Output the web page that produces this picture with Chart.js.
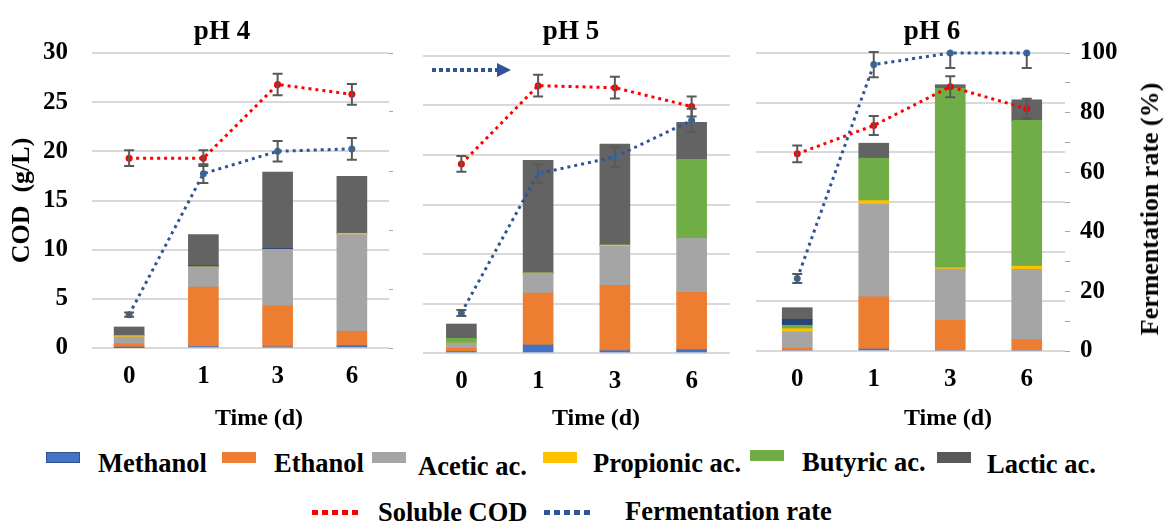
<!DOCTYPE html>
<html>
<head>
<meta charset="utf-8">
<script src="https://cdn.jsdelivr.net/npm/chart.js@4.4.0/dist/chart.umd.min.js"></script>
<style>
  body { margin: 0; background: #fff; }
  #wrap { position: relative; width: 1164px; height: 525px; overflow: hidden;
          font-family: "Liberation Serif", "Times New Roman", serif; font-weight: bold; color: #000; }
  canvas { position: absolute; top: 0; }
  .t { position: absolute; white-space: nowrap; line-height: 1; }
  .ttl { font-size: 27px; transform: translateX(-50%); }
  .xt { font-size: 24px; transform: translateX(-50%); }
  .lg { font-size: 26.5px; }
  .box { position: absolute; width: 34px; height: 11px; }
  .dot { position: absolute; width: 50px; height: 5px; }
</style>
</head>
<body>
<div id="wrap">
  <canvas id="c0" width="395" height="440" style="left:0px"></canvas>
  <canvas id="c1" width="365" height="440" style="left:395px"></canvas>
  <canvas id="c2" width="409" height="440" style="left:755px"></canvas>

  <div class="t ttl" style="left:222px; top:17px">pH 4</div>
  <div class="t ttl" style="left:571px; top:17px">pH 5</div>
  <div class="t ttl" style="left:932px; top:17px">pH 6</div>

  <div class="t xt" style="left:259px; top:405px">Time (d)</div>
  <div class="t xt" style="left:596px; top:405px">Time (d)</div>
  <div class="t xt" style="left:948px; top:405px">Time (d)</div>

  <div class="t" style="left:1150px; top:209px; font-size:26px; transform: translate(-50%,-50%) rotate(-90deg);">Fermentation rate (%)</div>

  <div class="box" style="left:46px; top:452px; background:#4472C4; border:1.5px solid #2F528F; box-sizing:border-box"></div>
  <div class="t lg" style="left:98px; top:450px">Methanol</div>
  <div class="box" style="left:222px; top:452px; background:#ED7D31"></div>
  <div class="t lg" style="left:274px; top:450px">Ethanol</div>
  <div class="box" style="left:372px; top:452px; background:#A5A5A5"></div>
  <div class="t lg" style="left:418px; top:453px">Acetic ac.</div>
  <div class="box" style="left:543px; top:452px; background:#FFC000"></div>
  <div class="t lg" style="left:593px; top:450px">Propionic ac.</div>
  <div class="box" style="left:750px; top:450px; background:#70AD47"></div>
  <div class="t lg" style="left:802px; top:449px">Butyric ac.</div>
  <div class="box" style="left:937px; top:452px; background:#595959"></div>
  <div class="t lg" style="left:987px; top:451px">Lactic ac.</div>

  <div class="dot" style="left:312px; top:510px; background:repeating-linear-gradient(90deg,#FF0000 0 6px,transparent 6px 10px)"></div>
  <div class="t lg" style="left:378px; top:499px">Soluble COD</div>
  <div class="dot" style="left:544px; top:510px; background:repeating-linear-gradient(90deg,#2F5597 0 6px,transparent 6px 10px)"></div>
  <div class="t lg" style="left:625px; top:498px">Fermentation rate</div>
</div>

<script>
const days = ['0', '1', '3', '6'];

// COD of each product (g/L); rows: pH 4, pH 5, pH 6
const methanol  = [[0.03, 0.15, 0.12, 0.24], [0.15, 0.81, 0.24, 0.34], [0, 0.2, 0, 0]];
const ethanol   = [[0.41, 6.05, 4.18, 1.46], [0.32, 5.25, 6.59, 5.79], [0.3, 5.25, 3.09, 1.14]];
const acetic    = [[0.68, 2.04, 5.7, 9.83], [0.53, 2.02, 3.94, 5.45], [1.62, 9.35, 5.15, 7.07]];
const propionic = [[0.13, 0, 0, 0.13], [0, 0, 0.13, 0], [0.33, 0.34, 0.14, 0.33]];
const butyric   = [[0, 0, 0, 0], [0.5, 0, 0, 7.98], [0.34, 4.27, 18.09, 14.67]];
const other     = [[0, 0.13, 0.13, 0], [0, 0, 0, 0], [0.6, 0, 0, 0]];
const lactic    = [[0.89, 3.16, 7.77, 5.8], [1.43, 11.38, 10.2, 3.74], [1.17, 1.51, 0.34, 2.08]];

// soluble COD (g/L) and fermentation rate (%), with error bars
const solubleCOD    = [[19.3, 19.3, 26.8, 25.8], [19.1, 27.0, 26.8, 24.9], [19.85, 22.7, 26.6, 24.4]];
const solubleCODErr = [[0.8, 0.8, 1.1, 1.05], [0.8, 1.1, 1.1, 1.0], [0.85, 0.95, 1.05, 1.0]];
const fermRate      = [[11.3, 59.1, 66.7, 67.5], [13.5, 60.4, 66.0, 78.3], [24.3, 96.1, 100, 100]];
const fermRateErr   = [[0.7, 3.2, 3.5, 3.7], [1.0, 3.1, 3.4, 3.9], [1.5, 4.2, 5, 5]];

const partNames  = ['Methanol', 'Ethanol', 'Acetic ac.', 'Propionic ac.', 'Butyric ac.', 'Other', 'Lactic ac.'];
const partValues = [methanol, ethanol, acetic, propionic, butyric, other, lactic];
const partColors = ['#4472C4', '#ED7D31', '#A5A5A5', '#FFC000', '#70AD47', '#264478', '#636363'];

const FONT = '"Liberation Serif", "Times New Roman", serif';
const GRID = '#d9d9d9';
const FR_COLOR = '#2F5597';

Chart.defaults.font.family = FONT;
Chart.defaults.font.weight = 'bold';
Chart.defaults.color = '#000';

const errorBars = {
  id: 'errorBars',
  afterDatasetsDraw(chart) {
    const ctx = chart.ctx, a = chart.chartArea;
    ctx.save();
    ctx.beginPath();
    ctx.rect(a.left, a.top - 2, a.right - a.left, a.bottom - a.top + 4);
    ctx.clip();
    ctx.strokeStyle = '#595959';
    ctx.lineWidth = 2;
    chart.data.datasets.forEach((ds, i) => {
      if (!ds.errors) return;
      const scale = chart.scales[ds.yAxisID];
      chart.getDatasetMeta(i).data.forEach((pt, j) => {
        const v = ds.data[j], e = ds.errors[j];
        const y1 = scale.getPixelForValue(v + e);
        const y2 = scale.getPixelForValue(v - e);
        ctx.beginPath();
        ctx.moveTo(pt.x, y1); ctx.lineTo(pt.x, y2);
        ctx.moveTo(pt.x - 5, y1); ctx.lineTo(pt.x + 5, y1);
        ctx.moveTo(pt.x - 5, y2); ctx.lineTo(pt.x + 5, y2);
        ctx.stroke();
      });
    });
    ctx.restore();
  }
};

// arrow showing that the blue line reads on the right axis
const arrow = {
  id: 'arrow',
  afterDraw(chart) {
    const ctx = chart.ctx, a = chart.chartArea;
    const y = a.top + 14;
    ctx.save();
    ctx.strokeStyle = FR_COLOR;
    ctx.fillStyle = FR_COLOR;
    ctx.lineWidth = 4;
    ctx.setLineDash([4, 3]);
    ctx.beginPath(); ctx.moveTo(a.left + 9, y); ctx.lineTo(a.left + 74, y); ctx.stroke();
    ctx.setLineDash([]);
    ctx.beginPath();
    ctx.moveTo(a.left + 74, y - 7); ctx.lineTo(a.left + 88, y); ctx.lineTo(a.left + 74, y + 7);
    ctx.closePath(); ctx.fill();
    ctx.restore();
  }
};

function panelChart(i, o) {
  const datasets = partNames.map((name, k) => ({
    type: 'bar',
    label: name,
    data: partValues[k][i],
    backgroundColor: partColors[k],
    borderWidth: 0,
    barThickness: 30,
    stack: 'cod',
    yAxisID: 'y',
    order: 1
  }));
  datasets.push({
    type: 'line', label: 'Soluble COD',
    data: solubleCOD[i], errors: solubleCODErr[i],
    yAxisID: 'y', stack: 'scod',
    borderColor: '#FF0000', backgroundColor: '#FF0000',
    borderWidth: 3, borderDash: [3, 4],
    pointRadius: 3.5, pointBorderWidth: 0,
    order: 0, clip: 10
  });
  datasets.push({
    type: 'line', label: 'Fermentation rate',
    data: fermRate[i], errors: fermRateErr[i],
    yAxisID: 'y2', stack: 'fr',
    borderColor: FR_COLOR, backgroundColor: '#2E6DAA',
    borderWidth: 3, borderDash: [3, 4],
    pointRadius: 3.5, pointBorderWidth: 0,
    order: 0, clip: 10
  });

  return new Chart(document.getElementById('c' + i), {
    data: { labels: days, datasets },
    plugins: o.arrow ? [errorBars, arrow] : [errorBars],
    options: {
      responsive: false,
      animation: false,
      events: [],
      layout: { padding: { top: o.top, left: 0, right: 0, bottom: 0 } },
      plugins: { legend: { display: false }, tooltip: { enabled: false } },
      scales: {
        x: {
          stacked: true,
          grid: { display: false },
          border: { display: false },
          ticks: { font: { size: 25 }, padding: 6 },
          afterFit: s => { s.height = 440 - o.bottom; }
        },
        y: {
          stacked: true,
          min: 0, max: 30,
          border: { display: false },
          grid: { color: GRID, lineWidth: 2, drawTicks: o.leftTicks, tickLength: 3 },
          ticks: { stepSize: 5, display: o.leftLabels, font: { size: 25 }, padding: 24 },
          title: { display: o.leftLabels, text: 'COD  (g/L)', font: { size: 26 }, padding: { top: 7, bottom: 0 } },
          afterFit: s => { s.width = o.left; }
        },
        y2: {
          position: 'right',
          min: 0, max: 100,
          border: { display: false },
          grid: { display: o.rightTicks, drawOnChartArea: false, color: '#a6a6a6', tickLength: o.rightLabels ? 5 : 4 },
          ticks: {
            display: o.rightTicks,
            stepSize: o.rightLabels ? 10 : 20,
            autoSkip: false,
            font: { size: 25 },
            padding: 10,
            callback: v => (o.rightLabels && v % 20 === 0) ? v : ''
          },
          afterFit: s => { s.width = o.right; }
        }
      }
    }
  });
}

panelChart(0, { top: 53, bottom: 348, left: 92, right: 6, leftLabels: true, leftTicks: false, rightLabels: false, rightTicks: true });
panelChart(1, { top: 56, bottom: 353, left: 28, right: 30, leftLabels: false, leftTicks: false, rightLabels: false, rightTicks: false, arrow: true });
panelChart(2, { top: 53, bottom: 351, left: 3, right: 99, leftLabels: false, leftTicks: true, rightLabels: true, rightTicks: true });
</script>
</body>
</html>
